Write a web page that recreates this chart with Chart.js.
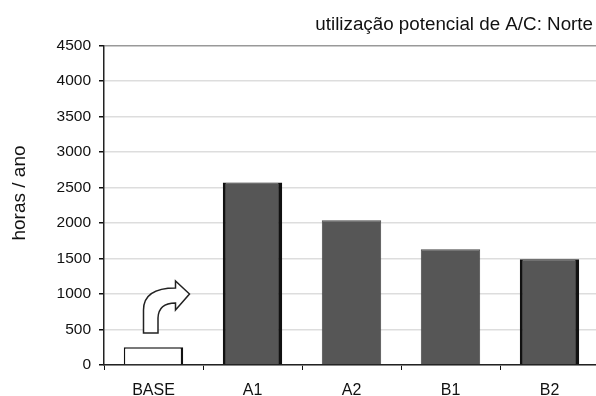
<!DOCTYPE html>
<html>
<head>
<meta charset="utf-8">
<style>
  html, body { margin: 0; padding: 0; background: #fff; overflow: hidden; }
  canvas { display: block; }
</style>
<script src="https://cdn.jsdelivr.net/npm/chart.js@4"></script>
</head>
<body>
<!-- canvas is a bit wider than the window: the last category runs off the right edge in the scan -->
<canvas id="myChart" width="600" height="396"></canvas>
<script>
// Values
const categories = ["BASE", "A1", "A2", "B1", "B2"];
const hours = [250, 2570, 2040, 1630, 1490];
const yMax = 4500;
const yStep = 500;
const yTitle = "horas / ano";

// Outline arrow above the BASE bar, placed from the scales
const arrowPlugin = {
  id: "arrow",
  afterLayout(chart) {
    // title stops short of the canvas edge
    chart.titleBlock.right = 593;
  },
  afterDatasetsDraw(chart) {
    const x = chart.scales.x.getPixelForValue(0) - 10;
    const y = chart.scales.y.getPixelForValue(0) - 32;
    const c = chart.ctx;
    c.save();
    c.beginPath();
    c.moveTo(x, y);
    c.lineTo(x, y - 23);
    c.quadraticCurveTo(x, y - 45, x + 32, y - 45);
    c.lineTo(x + 32, y - 52);
    c.lineTo(x + 46, y - 39);
    c.lineTo(x + 32, y - 23);
    c.lineTo(x + 32, y - 30);
    c.quadraticCurveTo(x + 15, y - 30, x + 14.5, y - 15);
    c.lineTo(x + 14.5, y);
    c.closePath();
    c.fillStyle = "#fff";
    c.fill();
    c.lineWidth = 1.5;
    c.strokeStyle = "#222";
    c.stroke();

    // y axis title sits above the middle of the axis
    c.translate(20, 193);
    c.rotate(-Math.PI / 2);
    c.font = "19px 'Liberation Sans'";
    c.fillStyle = "#111";
    c.textAlign = "center";
    c.textBaseline = "middle";
    c.fillText(yTitle, 0, 0);
    c.restore();
  },
};

// A1 and B2 have heavy black sides in the scan, A2 and B1 do not
function barBorder(c) {
  const name = categories[c.dataIndex];
  if (name === "BASE") return { left: 1.5, right: 2.5, top: 1.5, bottom: 0 };
  if (name === "A1" || name === "B2") return { left: 3, right: 4, top: 1, bottom: 0 };
  return { left: 1, right: 1, top: 1, bottom: 0 };
}

const ctx = document.getElementById("myChart").getContext("2d");
const myChart = new Chart(ctx, {
  type: "bar",
  data: {
    labels: categories,
    datasets: [
      {
        data: hours,
        backgroundColor: (c) => (c.dataIndex === 0 ? "#ffffff" : "#565656"),
        borderColor: (c) => (c.dataIndex === 1 || c.dataIndex === 4 || c.dataIndex === 0 ? "#111111" : "#484848"),
        borderWidth: barBorder,
        borderSkipped: false,
        barPercentage: 0.6,
        categoryPercentage: 1,
      },
    ],
  },
  options: {
    responsive: false,
    animation: false,
    layout: { padding: { top: 0, right: 1, bottom: 0, left: 0 } },
    plugins: {
      legend: { display: false },
      tooltip: { enabled: false },
      title: {
        display: true,
        text: "utilização potencial de A/C: Norte",
        align: "end",
        color: "#111",
        font: { family: "Liberation Sans", size: 18.8, weight: "normal" },
        padding: { top: 14, bottom: 9 },
      },
    },
    scales: {
      x: {
        afterFit(scale) {
          scale.height = 31;
        },
        grid: {
          drawOnChartArea: false,
          color: "#111",
          tickLength: 5,
        },
        border: { color: "#222", width: 1.5 },
        ticks: {
          color: "#111",
          padding: 11,
          maxRotation: 0,
          autoSkip: false,
          font: { family: "Liberation Sans", size: 16 },
        },
      },
      y: {
        min: 0,
        max: yMax,
        afterFit(scale) {
          scale.width = 104;
        },
        grid: {
          color: (c) => (c.tick.value === yMax ? "#999999" : "#dddddd"),
          lineWidth: 1.5,
          tickColor: "#111",
          tickLength: 5,
        },
        border: { color: "#222", width: 1.5 },
        ticks: {
          stepSize: yStep,
          autoSkip: false,
          color: "#111",
          padding: 8,
          font: { family: "Liberation Sans", size: 15.5 },
          callback: (v) => String(v),
        },
      },
    },
  },
  plugins: [arrowPlugin],
});
</script>
</body>
</html>
